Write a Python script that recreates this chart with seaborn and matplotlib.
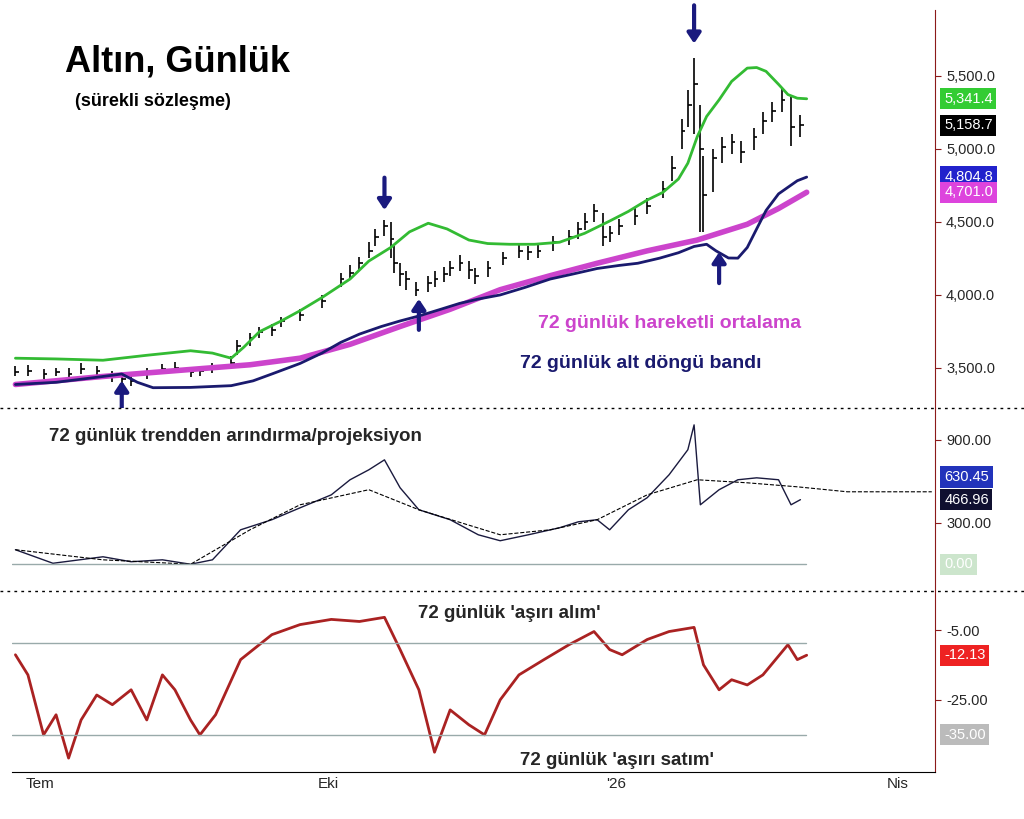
import matplotlib
matplotlib.use("Agg")
import matplotlib.pyplot as plt
import seaborn as sns

sns.set_style("white")
plt.rcParams["font.family"] = ["Liberation Sans", "DejaVu Sans"]

# days counted from 1 July 2025
bar_days = [-8, -4, 1, 5, 9, 13, 18, 23, 26, 29, 34, 39, 43, 48, 51, 55, 61, 63, 67, 70,
            74, 77, 83, 90, 96, 99, 102, 105, 107, 110, 112, 113, 115, 117, 120, 124, 126,
            129, 131, 134, 137, 139, 143, 148, 153, 156, 159, 164, 169, 172, 174, 177, 180,
            182, 185, 190, 194, 199, 202, 205, 207, 209, 211, 212, 215, 218, 221, 224, 228,
            231, 234, 237, 240, 243]
bar_close = [3470, 3480, 3455, 3470, 3460, 3490, 3475, 3440, 3420, 3410, 3460, 3490, 3500,
             3470, 3480, 3500, 3530, 3650, 3700, 3745, 3760, 3818, 3860, 3960, 4105, 4150,
             4215, 4300, 4395, 4470, 4380, 4215, 4140, 4105, 4030, 4080, 4105, 4140, 4180,
             4215, 4170, 4130, 4180, 4250, 4300, 4290, 4300, 4360, 4395, 4450, 4500, 4575,
             4395, 4420, 4470, 4540, 4610, 4720, 4865, 5120, 5300, 5440, 5000, 4685, 4935,
             5010, 5045, 4975, 5080, 5190, 5260, 5335, 5150, 5160]
bar_high = [3510, 3520, 3490, 3500, 3495, 3530, 3510, 3475, 3450, 3445, 3495, 3525, 3540,
            3505, 3510, 3530, 3580, 3690, 3740, 3780, 3800, 3850, 3900, 4000, 4150, 4200,
            4260, 4360, 4450, 4510, 4500, 4330, 4220, 4160, 4090, 4130, 4160, 4190, 4230,
            4270, 4230, 4180, 4230, 4290, 4340, 4330, 4350, 4400, 4440, 4500, 4560, 4620,
            4560, 4470, 4520, 4590, 4660, 4780, 4950, 5200, 5400, 5620, 5300, 4950, 5000,
            5080, 5100, 5050, 5140, 5250, 5320, 5420, 5350, 5230]
bar_low = [3440, 3440, 3420, 3440, 3425, 3455, 3440, 3400, 3385, 3375, 3425, 3455, 3465,
           3435, 3445, 3465, 3490, 3590, 3650, 3700, 3720, 3780, 3820, 3910, 4050, 4100,
           4160, 4250, 4330, 4400, 4250, 4150, 4060, 4030, 3990, 4020, 4050, 4090, 4130,
           4160, 4110, 4070, 4120, 4200, 4250, 4240, 4250, 4300, 4340, 4380, 4440, 4500,
           4330, 4360, 4410, 4480, 4550, 4660, 4780, 5000, 5150, 5100, 4430, 4430, 4700,
           4900, 4960, 4900, 4990, 5100, 5180, 5250, 5020, 5080]

green_days = [-8, 5, 20, 34, 48, 55, 61, 65, 70, 77, 83, 90, 99, 105, 112, 118, 124, 130,
              137, 143, 150, 158, 166, 174, 182, 188, 194, 199, 204, 207, 210, 213, 217, 221,
              226, 229, 232, 236, 239, 242, 245]
green_vals = [3565, 3560, 3551, 3585, 3616, 3600, 3565, 3640, 3746, 3820, 3890, 3980, 4107,
              4230, 4323, 4430, 4489, 4450, 4374, 4350, 4345, 4345, 4359, 4420, 4504, 4570,
              4648, 4700, 4792, 4900, 5081, 5220, 5334, 5460, 5551, 5555, 5529, 5440, 5370,
              5345, 5341]
navy_days = [-8, 5, 13, 20, 26, 31, 36, 48, 61, 68, 74, 83, 90, 96, 102, 109, 115, 121, 128,
             134, 140, 147, 155, 163, 170, 178, 185, 191, 198, 204, 209, 213, 216, 220, 223,
             226, 229, 232, 236, 239, 242, 245]
navy_vals = [3385, 3400, 3421, 3440, 3457, 3400, 3363, 3365, 3377, 3410, 3457, 3529, 3600,
             3673, 3730, 3782, 3820, 3854, 3900, 3940, 3970, 3998, 4050, 4107, 4140, 4179,
             4200, 4215, 4250, 4287, 4330, 4345, 4300, 4251, 4250, 4323, 4450, 4576, 4690,
             4735, 4780, 4805]
ma_days = [-8, 20, 51, 67, 83, 99, 115, 131, 147, 163, 178, 194, 210, 226, 236, 245]
ma_vals = [3385, 3440, 3493, 3520, 3565, 3660, 3782, 3900, 4034, 4130, 4215, 4300, 4374,
           4482, 4590, 4701]

det_days = [-8, 4, 20, 29, 39, 48, 55, 64, 74, 83, 93, 99, 105, 110, 115, 121, 131, 140,
            147, 156, 166, 172, 178, 182, 188, 194, 201, 207, 209, 211, 217, 223, 229, 236, 240, 243]
det_vals = [105, 7, 54, 18, 32, 0, 32, 249, 322, 408, 502, 611, 683, 755, 553, 394, 322, 213,
            170, 213, 264, 307, 322, 249, 394, 481, 647, 828, 1008, 430, 539, 611, 625, 611, 430, 467]
proj_days = [-8, 20, 48, 67, 83, 105, 121, 147, 163, 178, 194, 210, 226, 242, 258, 285]
proj_vals = [105, 32, 0, 249, 430, 539, 394, 213, 249, 322, 502, 611, 589, 560, 524, 524]

osc_days = [-8, -4, 1, 5, 9, 13, 18, 23, 29, 34, 39, 43, 48, 51, 56, 64, 74, 83, 93, 102,
            110, 115, 121, 126, 131, 137, 142, 147, 153, 161, 169, 177, 182, 186, 194, 201,
            209, 212, 217, 221, 226, 231, 239, 242, 245]
osc_vals = [-12, -17.8, -35.1, -29.3, -41.8, -30.8, -23.6, -26.4, -22.1, -30.8, -17.8, -22.1,
            -30.8, -35.1, -29.3, -13.4, -6.2, -3.3, -1.8, -2.4, -1.2, -10.5, -22.1, -40.1,
            -27.9, -32.2, -35.1, -25, -17.8, -13.4, -9.1, -5.3, -10.5, -12, -7.6, -5.3, -4.1,
            -14.9, -22.1, -19.2, -20.7, -17.8, -9.1, -13.4, -12.13]

month_ticks = [0, 92, 184, 274]
month_labels = ["Tem", "Eki", "'26", "Nis"]

fig = plt.figure(figsize=(10.24, 8.19), dpi=100)
L, W = 0.012, 0.901
ax1 = fig.add_axes([L, 0.502, W, 0.486])
ax2 = fig.add_axes([L, 0.280, W, 0.222], sharex=ax1)
ax3 = fig.add_axes([L, 0.057, W, 0.221], sharex=ax1)
dark_red = "#8b1a1a"

for ax in (ax1, ax2, ax3):
    ax.yaxis.tick_right()
    for s in ("top", "left", "bottom"):
        ax.spines[s].set_visible(False)
    ax.spines["right"].set_color(dark_red)
    ax.tick_params(axis="y", length=4, color=dark_red, labelsize=10.5, pad=4)
    ax.tick_params(axis="x", length=0)
    ax.set_xlim(-9, 286)

# top panel
ax1.vlines(bar_days, bar_low, bar_high, color="black", lw=1.2)
ax1.hlines(bar_close, bar_days, [d + 1.2 for d in bar_days], color="black", lw=1.2)
sns.lineplot(x=ma_days, y=ma_vals, ax=ax1, color="#cc44cc", lw=4)
sns.lineplot(x=navy_days, y=navy_vals, ax=ax1, color="#1a1a6e", lw=2)
sns.lineplot(x=green_days, y=green_vals, ax=ax1, color="#33bb33", lw=2)
ax1.set_ylim(3225, 5950)
ax1.set_yticks([3500, 4000, 4500, 5000, 5500])
ax1.set_yticklabels(["3,500.0", "4,000.0", "4,500.0", "5,000.0", "5,500.0"])
ax1.text(0.057, 0.87, "Altın, Günlük", transform=ax1.transAxes, fontsize=26,
         fontweight="bold", color="black", va="center")
ax1.text(0.068, 0.77, "(sürekli sözleşme)", transform=ax1.transAxes, fontsize=13,
         fontweight="bold", color="black", va="center")
ax1.text(0.57, 0.2, "72 günlük hareketli ortalama", transform=ax1.transAxes, fontsize=14,
         fontweight="bold", color="#cc44cc")
ax1.text(0.55, 0.1, "72 günlük alt döngü bandı", transform=ax1.transAxes, fontsize=14,
         fontweight="bold", color="#1a1a6e")
arrow = dict(arrowstyle="-|>,head_width=0.4,head_length=0.6", color="#1a1a7e", lw=3)
for d, y0, y1 in [(110, 4820, 4560), (209, 6000, 5700)]:
    ax1.annotate("", xy=(d, y1), xytext=(d, y0), arrowprops=arrow, annotation_clip=False)
for d, y0, y1 in [(26, 3150, 3430), (121, 3740, 3990), (217, 4060, 4310)]:
    ax1.annotate("", xy=(d, y1), xytext=(d, y0), arrowprops=arrow, annotation_clip=False)
for val, txt, fc in [(5341.4, "5,341.4", "#33cc33"), (5158.7, "5,158.7", "black"),
                     (4804.8, "4,804.8", "#2222cc"), (4701.0, "4,701.0", "#dd44dd")]:
    ax1.text(1.01, val, txt, transform=ax1.get_yaxis_transform(), va="center", fontsize=10.5,
             color="white", bbox=dict(boxstyle="square,pad=0.25", fc=fc, ec="none"))

# middle panel
sns.lineplot(x=det_days, y=det_vals, ax=ax2, color="#1a1a3e", lw=1)
sns.lineplot(x=proj_days, y=proj_vals, ax=ax2, color="black", lw=0.8, linestyle="--")
ax2.axhline(0, xmax=0.86, color="#99aaaa", lw=1)
ax2.set_ylim(-184, 1131)
ax2.set_yticks([300, 900])
ax2.set_yticklabels(["300.00", "900.00"])
ax2.text(0.04, 0.82, "72 günlük trendden arındırma/projeksiyon", transform=ax2.transAxes,
         fontsize=13.5, fontweight="bold")
for val, txt, fc in [(630, "630.45", "#2233bb"), (467, "466.96", "#101030"), (0, "0.00", "#cce5cc")]:
    ax2.text(1.01, val, txt, transform=ax2.get_yaxis_transform(), va="center", fontsize=10.5,
             color="white", bbox=dict(boxstyle="square,pad=0.25", fc=fc, ec="none"))

# bottom panel
sns.lineplot(x=osc_days, y=osc_vals, ax=ax3, color="#aa2222", lw=2)
ax3.axhline(-8.6, xmax=0.86, color="#99aaaa", lw=1)
ax3.axhline(-35, xmax=0.86, color="#99aaaa", lw=1)
ax3.set_ylim(-45.9, 6.3)
ax3.set_yticks([-5, -25])
ax3.set_yticklabels(["-5.00", "-25.00"])
ax3.text(0.44, 0.85, "72 günlük 'aşırı alım'", transform=ax3.transAxes, fontsize=13.5, fontweight="bold")
ax3.text(0.55, 0.04, "72 günlük 'aşırı satım'", transform=ax3.transAxes, fontsize=13.5, fontweight="bold")
for val, txt, fc in [(-12.13, "-12.13", "#ee2222"), (-35, "-35.00", "#bbbbbb")]:
    ax3.text(1.01, val, txt, transform=ax3.get_yaxis_transform(), va="center", fontsize=10.5,
             color="white", bbox=dict(boxstyle="square,pad=0.25", fc=fc, ec="none"))

ax3.spines["bottom"].set_visible(True)
ax3.spines["bottom"].set_color("black")
ax3.set_xticks(month_ticks)
ax3.set_xticklabels(month_labels, fontsize=11)
ax3.tick_params(axis="x", length=4, direction="in")
for ax in (ax1, ax2):
    ax.tick_params(axis="x", labelbottom=False)

for yf in (0.502, 0.278):
    fig.add_artist(plt.Line2D([0.0, 1.0], [yf, yf], color="black", lw=1, linestyle=(0, (2, 3))))

fig.savefig("out.png", dpi=100)
